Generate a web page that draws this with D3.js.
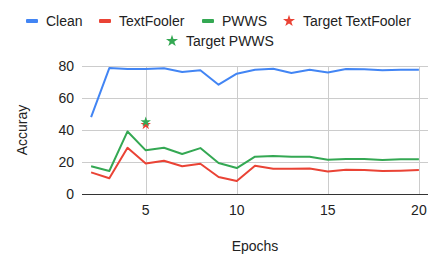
<!DOCTYPE html>
<html>
<head>
<meta charset="utf-8">
<script src="https://cdn.jsdelivr.net/npm/d3@7"></script>
<style>
  body { margin: 0; background: #fff; }
  svg { display: block; font-family: "Liberation Sans", Arial, sans-serif; }
</style>
</head>
<body>
<div id="chart"></div>
<script>
// data
const epochs = [2, 3, 4, 5, 6, 7, 8, 9, 10, 11, 12, 13, 14, 15, 16, 17, 18, 19, 20];
const clean = [48, 78.7, 78.1, 78.2, 78.6, 76.2, 77.3, 68.3, 75.2, 77.7, 78.3, 75.6, 77.7, 76, 78.1, 78, 77.4, 77.6, 77.7];
const textFooler = [13.5, 9.8, 28.9, 19.1, 20.8, 17.3, 18.9, 10.6, 8.1, 17.7, 15.8, 15.8, 16, 14.1, 15.2, 15, 14.4, 14.6, 15];
const pwws = [17.3, 14.4, 39.1, 27.3, 28.9, 25, 28.7, 19.4, 16.2, 23.3, 23.7, 23.3, 23.3, 21.4, 21.9, 21.9, 21.2, 21.7, 21.7];
const targetEpoch = 5;
const targetTextFooler = 43.3;
const targetPwws = 45;
const xTicks = [5, 10, 15, 20];
const yTicks = [0, 20, 40, 60, 80];

const width = 442, height = 268;
const margin = { top: 66, right: 14, bottom: 74, left: 82 };
const fontSize = 14;

const colors = { clean: "#4285f4", tf: "#ea4335", pwws: "#34a853" };

const svg = d3.select("#chart").append("svg")
    .attr("width", width)
    .attr("height", height);

const x = d3.scaleLinear()
    .domain([1.5, 20.5])
    .range([margin.left, width - margin.right]);

const y = d3.scaleLinear()
    .domain([0, 80])
    .range([height - margin.bottom, margin.top]);

// grid
svg.append("g")
    .selectAll("line.h")
    .data(yTicks.filter(d => d > 0))
    .enter().append("line")
    .attr("x1", x.range()[0]).attr("x2", x.range()[1])
    .attr("y1", d => Math.round(y(d)) + 0.5).attr("y2", d => Math.round(y(d)) + 0.5)
    .attr("stroke", "#cccccc");

svg.append("g")
    .selectAll("line.v")
    .data(xTicks)
    .enter().append("line")
    .attr("x1", d => Math.round(x(d)) + 0.5).attr("x2", d => Math.round(x(d)) + 0.5)
    .attr("y1", y(80)).attr("y2", y(0))
    .attr("stroke", "#cccccc");

// baseline
svg.append("line")
    .attr("x1", x.range()[0]).attr("x2", x.range()[1])
    .attr("y1", Math.round(y(0)) + 0.5).attr("y2", Math.round(y(0)) + 0.5)
    .attr("stroke", "#333333");

// tick labels
svg.append("g")
    .selectAll("text")
    .data(yTicks)
    .enter().append("text")
    .attr("x", 74)
    .attr("y", d => y(d) + 5)
    .attr("text-anchor", "end")
    .attr("font-size", fontSize)
    .attr("fill", "#222")
    .text(d => d);

svg.append("g")
    .selectAll("text")
    .data(xTicks)
    .enter().append("text")
    .attr("x", d => x(d))
    .attr("y", 215)
    .attr("text-anchor", "middle")
    .attr("font-size", fontSize)
    .attr("fill", "#222")
    .text(d => d);

// axis titles
svg.append("text")
    .attr("x", (x.range()[0] + x.range()[1]) / 2)
    .attr("y", 251)
    .attr("text-anchor", "middle")
    .attr("font-size", fontSize)
    .attr("fill", "#222")
    .text("Epochs");

svg.append("text")
    .attr("transform", `translate(27, ${(y(0) + y(80)) / 2}) rotate(-90)`)
    .attr("text-anchor", "middle")
    .attr("font-size", fontSize)
    .attr("fill", "#222")
    .text("Accuray");

// lines
const line = d3.line()
    .x((d, i) => x(epochs[i]))
    .y(d => y(d));

[[clean, colors.clean], [pwws, colors.pwws], [textFooler, colors.tf]].forEach(([vals, c]) => {
    svg.append("path")
        .datum(vals)
        .attr("fill", "none")
        .attr("stroke", c)
        .attr("stroke-width", 2)
        .attr("stroke-linejoin", "round")
        .attr("d", line);
});

// target markers
const star = d3.symbol().type(d3.symbolStar).size(34);
svg.append("path")
    .attr("d", star)
    .attr("transform", `translate(${x(targetEpoch)}, ${y(targetTextFooler)})`)
    .attr("fill", colors.tf);
svg.append("path")
    .attr("d", star)
    .attr("transform", `translate(${x(targetEpoch)}, ${y(targetPwws)})`)
    .attr("fill", colors.pwws);

// legend
const legend = [
    { label: "Clean", color: colors.clean, type: "line", x: 26, y: 21 },
    { label: "TextFooler", color: colors.tf, type: "line", x: 99, y: 21 },
    { label: "PWWS", color: colors.pwws, type: "line", x: 202, y: 21 },
    { label: "Target TextFooler", color: colors.tf, type: "star", x: 283, y: 21 },
    { label: "Target PWWS", color: colors.pwws, type: "star", x: 166, y: 41 }
];

const lg = svg.append("g").selectAll("g")
    .data(legend)
    .enter().append("g")
    .attr("transform", d => `translate(${d.x}, ${d.y})`);

lg.filter(d => d.type === "line").append("rect")
    .attr("x", 0).attr("y", -2)
    .attr("width", 12).attr("height", 4)
    .attr("rx", 1)
    .attr("fill", d => d.color);

lg.filter(d => d.type === "star").append("path")
    .attr("d", d3.symbol().type(d3.symbolStar).size(45))
    .attr("transform", "translate(6, 0)")
    .attr("fill", d => d.color);

lg.append("text")
    .attr("x", 20)
    .attr("y", 5)
    .attr("font-size", fontSize)
    .attr("fill", "#222")
    .text(d => d.label);
</script>
</body>
</html>
